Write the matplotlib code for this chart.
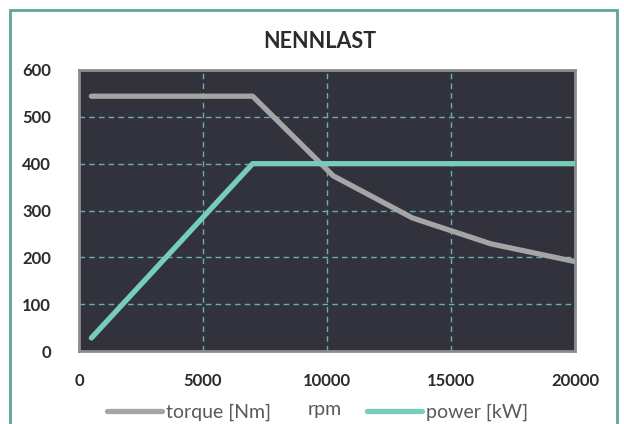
import matplotlib.pyplot as plt
from matplotlib.patches import Rectangle

# data
rpm_torque = [500, 7000, 10250, 13450, 16600, 20000]
torque = [544, 544, 374, 284, 229, 191]
rpm_power = [500, 7000, 20000]
power = [28, 400, 400]

x_ticks = [0, 5000, 10000, 15000, 20000]
y_ticks = [0, 100, 200, 300, 400, 500, 600]

plt.rcParams['font.family'] = ['Lato', 'DejaVu Sans']

fig = plt.figure(figsize=(6.24, 4.24), dpi=100)
fig.patch.set_facecolor('white')
ax = fig.add_axes([0.1266, 0.172, 0.795, 0.663])
ax.set_facecolor('#32323c')

tq, = ax.plot(rpm_torque, torque, color='#a5a5a5', lw=3.8, solid_capstyle='round', zorder=3)
pw, = ax.plot(rpm_power, power, color='#76cdbb', lw=3.8, solid_capstyle='round', zorder=3)

ax.set_xlim(0, 20000)
ax.set_ylim(0, 600)
ax.set_xticks(x_ticks)
ax.set_yticks(y_ticks)
ax.tick_params(length=0, labelsize=12, colors='#2b2b2b')
ax.tick_params(axis='x', pad=16)
ax.tick_params(axis='y', pad=20)
for lab in ax.get_xticklabels() + ax.get_yticklabels():
    lab.set_fontweight('bold')

ax.grid(True, color='#6aaeb4', linestyle=(0, (4, 3)), lw=1.0)
for s in ax.spines.values():
    s.set_color('#8c8c8c')
    s.set_linewidth(2)

fig.text(0.512, 1 - 42 / 424, 'NENNLAST', ha='center', va='center',
         fontsize=15.5, fontweight='bold', color='#2b2b2b')

fig.text(325 / 624, 1 - 409 / 424, 'rpm', ha='center', va='center', fontsize=14, color='#595959')
leg_kw = dict(loc='center left', frameon=False, fontsize=14, handlelength=2.85,
              handletextpad=0.2, borderpad=0, borderaxespad=0, labelcolor='#595959')
fig.legend(handles=[tq], labels=['torque [Nm]'], bbox_to_anchor=(107 / 624, 1 - 412 / 424), **leg_kw)
fig.legend(handles=[pw], labels=['power [kW]'], bbox_to_anchor=(367 / 624, 1 - 412 / 424), **leg_kw)

# outer frame
fig.patches.append(Rectangle((10 / 624, -0.1), 607 / 624, 1.1 - 10 / 424,
                             transform=fig.transFigure, fill=False,
                             edgecolor='#5fa39b', lw=2))

fig.savefig('out.png', dpi=100)
